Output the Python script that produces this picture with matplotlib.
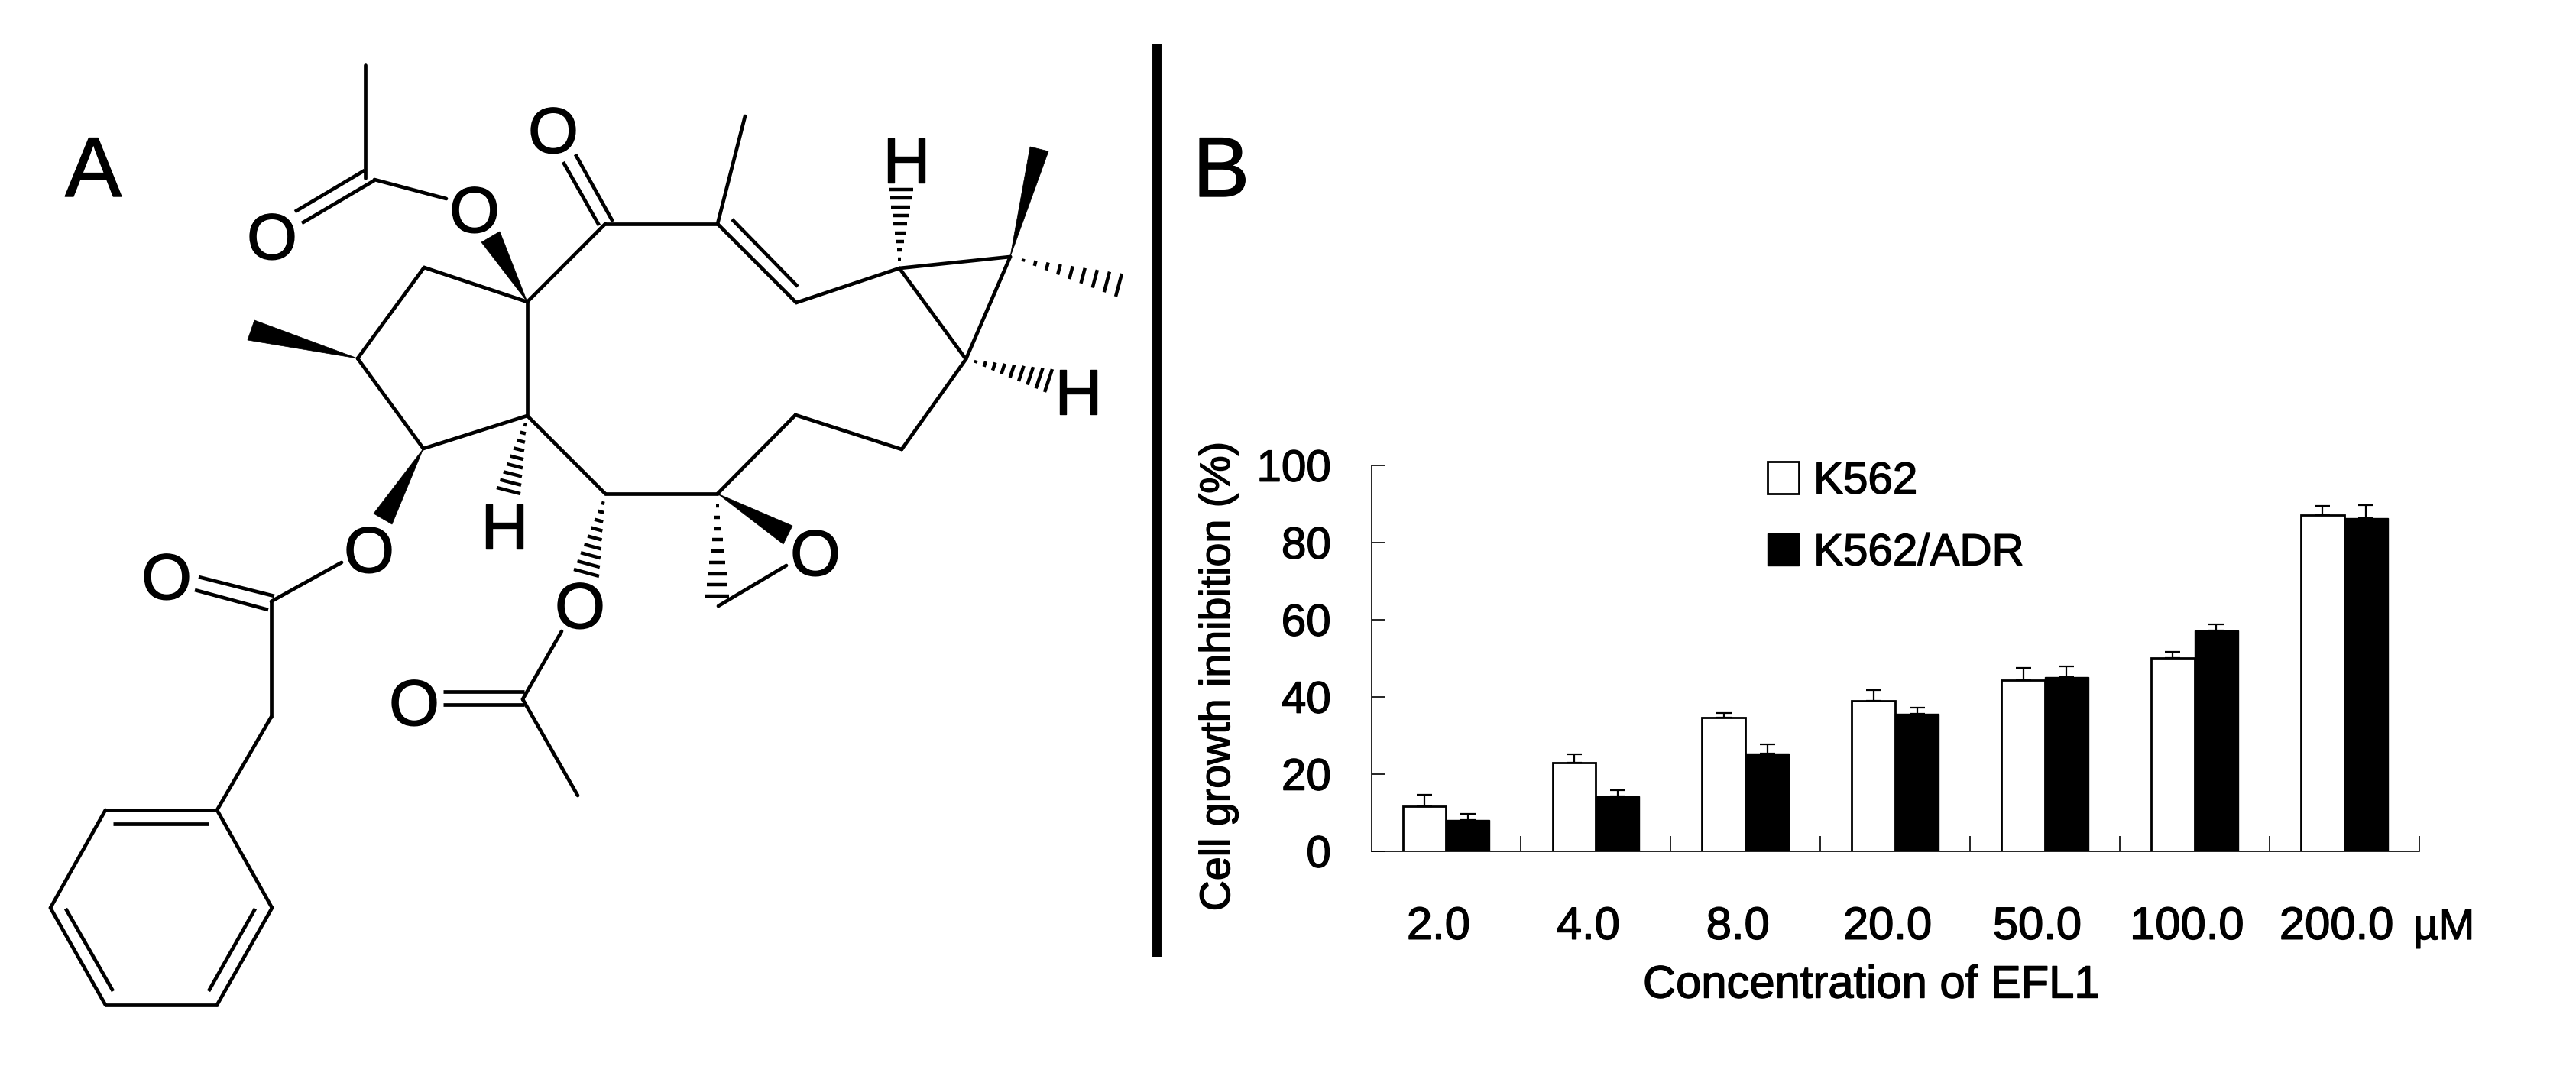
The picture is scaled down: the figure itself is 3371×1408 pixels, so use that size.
import numpy as np
import matplotlib
matplotlib.use("Agg")
import matplotlib.pyplot as plt
import matplotlib.patheffects as pe
from matplotlib.patches import Polygon
from matplotlib.text import Text

plt.rcParams['font.family'] = ['Liberation Sans', 'DejaVu Sans']

# ---- bar chart data ----
concentrations = ['2.0', '4.0', '8.0', '20.0', '50.0', '100.0', '200.0']
k562 = [11.6, 22.8, 34.5, 38.9, 44.2, 50.0, 87.1]
k562_err = [3.0, 2.3, 1.3, 2.8, 3.3, 1.6, 2.4]
k562_adr = [8.1, 14.1, 25.2, 35.6, 45.1, 57.2, 86.2]
k562_adr_err = [1.5, 1.7, 2.4, 1.6, 2.7, 1.6, 3.5]
series_names = ['K562', 'K562/ADR']
y_ticks = [0, 20, 40, 60, 80, 100]

# ---- structure drawing (image pixel coordinates) ----
single_bonds = [
    ((478, 85), (478, 233)), ((490, 235), (584, 260)),
    ((690, 395), (555, 350)), ((555, 350), (468, 469)), ((468, 469), (554, 587)),
    ((554, 587), (690, 544)), ((690, 544), (690, 395)), ((690, 395), (792, 293)),
    ((792, 293), (939, 293)), ((939, 293), (975, 152)), ((939, 293), (1042, 396)),
    ((1042, 396), (1177, 351)), ((1177, 351), (1322, 336)), ((1177, 351), (1264, 470)),
    ((1322, 336), (1264, 470)), ((1264, 470), (1180, 588)), ((1180, 588), (1041, 543)),
    ((1041, 543), (939, 646)), ((939, 646), (792, 646)), ((792, 646), (690, 544)),
    ((1029, 740), (940, 793)), ((735, 826), (684, 915)), ((684, 915), (756, 1041)),
    ((447, 736), (355, 787)), ((355, 787), (355, 938)), ((355, 938), (284, 1060)),
    ((284, 1060), (138, 1060)), ((138, 1060), (66, 1188)), ((66, 1188), (138, 1315)),
    ((138, 1315), (284, 1315)), ((284, 1315), (356, 1188)), ((356, 1188), (284, 1060)),
]
second_strokes = [
    ((477, 223), (386, 277)), ((490, 236), (395, 292)),
    ((737, 212), (784, 295)), ((753, 202), (802, 290)),
    ((958, 287), (1044, 375)),
    ((580, 905), (686, 905)), ((580, 922), (686, 922)),
    ((260, 755), (359, 780)), ((255, 772), (351, 798)),
    ((148, 1078), (273, 1078)), ((86, 1189), (148, 1297)), ((334, 1189), (273, 1297)),
]
wedges = [
    ((690, 395), (630, 317), (654, 303)), ((468, 469), (333, 419), (324, 445)),
    ((554, 587), (489, 672), (513, 686)), ((1322, 336), (1348, 192), (1372, 198)),
    ((939, 646), (1037, 688), (1025, 712)),
]
hashes = [
    ((690, 544), (650, 638), (681, 646)), ((1177, 351), (1163, 248), (1195, 248)),
    ((1322, 336), (1460, 388), (1468, 358)), ((1264, 470), (1367, 513), (1377, 483)),
    ((939, 646), (923, 780), (954, 780)), ((792, 646), (751, 745), (784, 754)),
]
atoms = [
    ('O', 356, 308), ('O', 621, 273), ('O', 724, 169), ('O', 483, 718), ('O', 218, 753),
    ('O', 759, 791), ('O', 542, 918), ('O', 1067, 722),
    ('H', 660, 687), ('H', 1186, 208), ('H', 1411, 511),
]
panel_labels = [('A', 85, 257), ('B', 1561, 257)]

W, H = 3371, 1408
fig = plt.figure(figsize=(W / 100, H / 100), dpi=100, facecolor='white')

# overlay in pixel coordinates
ov = fig.add_axes([0, 0, 1, 1])
ov.set_xlim(0, W)
ov.set_ylim(H, 0)
ov.axis('off')

LW = 3.4
for (a, b) in single_bonds:
    ov.plot([a[0], b[0]], [a[1], b[1]], color='k', lw=LW, solid_capstyle='round')
for (a, b) in second_strokes:
    ov.plot([a[0], b[0]], [a[1], b[1]], color='k', lw=LW, solid_capstyle='butt')
for apex, p, q in wedges:
    ov.add_patch(Polygon([apex, p, q], closed=True, fc='k', ec='k', lw=0.5))
for apex, p, q in hashes:
    apex, p, q = map(np.array, (apex, p, q))
    for t in np.linspace(0.12, 1.0, 9):
        s, e = apex + t * (p - apex), apex + t * (q - apex)
        ov.plot([s[0], e[0]], [s[1], e[1]], color='k', lw=3.2, solid_capstyle='butt')
for sym, x, y in atoms:
    ov.text(x, y + 31, sym, fontsize=61, ha='center', va='baseline', color='k')
for sym, x, y in panel_labels:
    ov.text(x, y, sym, fontsize=80, ha='left', va='baseline', color='k')
ov.plot([1514, 1514], [58, 1252], color='k', lw=8.6, solid_capstyle='butt')
ov.text(3158, 1229, 'µM', fontsize=41, ha='left', va='baseline', color='k')

# bar chart
ax_l, ax_r, ax_t, ax_b = 1794.5, 3165.7, 608.7, 1113.6
ax = fig.add_axes([ax_l / W, 1 - ax_b / H, (ax_r - ax_l) / W, (ax_b - ax_t) / H])
ax.patch.set_alpha(0)
x = np.arange(len(concentrations))
bw = 0.29
err_style = dict(ecolor='k', elinewidth=1.6, capsize=7, capthick=1.6)
b1 = ax.bar(x - bw / 2, k562, bw, color='white', edgecolor='k', linewidth=2.0,
            yerr=[np.zeros(len(k562)), k562_err], error_kw=err_style, label=series_names[0])
b2 = ax.bar(x + bw / 2, k562_adr, bw, color='k', edgecolor='k', linewidth=1.0,
            yerr=[np.zeros(len(k562_adr)), k562_adr_err], error_kw=err_style, label=series_names[1])
ax.set_xlim(-0.5, len(x) - 0.5)
ax.set_ylim(0, 100)
for s in ('top', 'right'):
    ax.spines[s].set_visible(False)
for s in ('left', 'bottom'):
    ax.spines[s].set_linewidth(1.2)
ax.set_yticks(y_ticks)
ax.tick_params(axis='y', direction='in', length=12, width=1.2, labelsize=42, pad=38)
ax.set_xticks(x - 0.05, concentrations)
ax.tick_params(axis='x', which='major', length=0, labelsize=43, pad=52)
ax.set_xticks(x + 0.5, minor=True)
ax.tick_params(axis='x', which='minor', direction='in', length=14.5, width=1.2)
ax.set_ylabel('Cell growth inhibition (%)', fontsize=40, va='center')
ax.yaxis.set_label_coords((1595 - ax_l) / (ax_r - ax_l), (ax_b - 885) / (ax_b - ax_t))
ax.set_xlabel('Concentration of EFL1', fontsize=43, va='center')
ax.xaxis.set_label_coords((2449 - ax_l) / (ax_r - ax_l), (ax_b - 1290) / (ax_b - ax_t))
ax.legend(handles=[b1, b2], loc='upper left',
          bbox_to_anchor=((2313 - ax_l) / (ax_r - ax_l), 1.01),
          frameon=False, fontsize=42, handlelength=0.7, handleheight=0.72,
          handletextpad=0.33, labelspacing=0.68, borderpad=0, borderaxespad=0)

# the reference glyphs are a little heavier than the plain font
for t in fig.findobj(Text):
    t.set_path_effects([pe.withStroke(linewidth=1.0, foreground='k')])

fig.savefig('out.png', dpi=100, facecolor='white')
